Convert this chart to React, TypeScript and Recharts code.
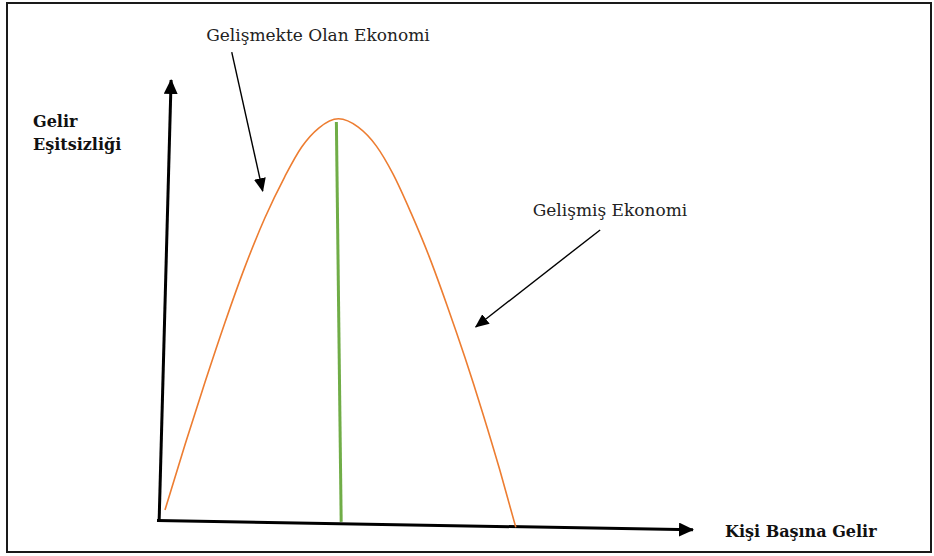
import { ComposedChart, Line, XAxis, YAxis } from "recharts";

// Kuznets curve: income per capita (x) vs. income inequality (y), arbitrary units 0..100
const income = [1.1, 4.9, 8.6, 12.3, 16.0, 19.8, 23.5, 26.7, 29.9, 33.6, 37.3, 40.7, 43.8, 47.2, 50.6, 53.9, 57.3, 60.6, 63.8, 66.8];
const inequality = [2.5, 17.5, 31.5, 44.9, 57.4, 68.7, 78.0, 84.8, 89.1, 91.2, 89.3, 85.0, 78.7, 69.8, 59.9, 49.0, 37.0, 24.5, 11.6, -1.4];

// green turning point line
const turningIncome = [33.2, 34.1];
const turningLevel = [90.5, -0.2];

// drawn axes (hand drawn, slightly tilted)
const yAxisX = [0, 2.24];
const yAxisY = [0, 100];
const xAxisX = [-0.4, 100];
const xAxisY = [0.1, -2.0];

// annotation arrows
const developingArrowX = [13.6, 19.4];
const developingArrowY = [106.3, 74.8];
const developedArrowX = [82.6, 59.3];
const developedArrowY = [66.0, 44.0];

const labelDeveloping = "Gelişmekte Olan Ekonomi";
const labelDeveloped = "Gelişmiş Ekonomi";
const yTitle = ["Gelir", "Eşitsizliği"];
const xTitle = "Kişi Başına Gelir";

const pts = (xs: number[], ys: number[]) => xs.map((x, i) => ({ x, y: ys[i] }));

const curve = pts(income, inequality);
const turning = pts(turningIncome, turningLevel);
const yAxisLine = pts(yAxisX, yAxisY);
const xAxisLine = pts(xAxisX, xAxisY);
const developingArrow = pts(developingArrowX, developingArrowY);
const developedArrow = pts(developedArrowX, developedArrowY);

const serif = "'DejaVu Serif', 'Liberation Serif', serif";

export default function App() {
  return (
    <div style={{ position: "fixed", left: 0, top: 0, width: 934, height: 556, background: "#fff" }}>
      <ComposedChart
        width={934}
        height={556}
        margin={{ top: 35.9, right: 241, bottom: 12.95, left: 157 }}
      >
        <defs>
          <marker id="axisHead" markerUnits="userSpaceOnUse" markerWidth={15} markerHeight={14}
            viewBox="0 0 15 14" refX={14} refY={7} orient="auto">
            <path d="M0,0 L15,7 L0,14 z" fill="#000" />
          </marker>
          <marker id="noteHead" markerUnits="userSpaceOnUse" markerWidth={14} markerHeight={12}
            viewBox="0 0 14 12" refX={13} refY={6} orient="auto">
            <path d="M0,0 L14,6 L0,12 z" fill="#000" />
          </marker>
        </defs>
        <XAxis type="number" dataKey="x" domain={[0, 100]} hide />
        <YAxis type="number" dataKey="y" domain={[-5, 110]} hide />

        <Line data={yAxisLine} dataKey="y" type="linear" stroke="#000" strokeWidth={3}
          dot={false} isAnimationActive={false} markerEnd="url(#axisHead)" />
        <Line data={xAxisLine} dataKey="y" type="linear" stroke="#000" strokeWidth={3}
          dot={false} isAnimationActive={false} markerEnd="url(#axisHead)" />

        <Line data={curve} dataKey="y" type="monotone" stroke="#ED7D31" strokeWidth={1.6}
          dot={false} isAnimationActive={false} />
        <Line data={turning} dataKey="y" type="linear" stroke="#70AD47" strokeWidth={3}
          dot={false} isAnimationActive={false} />

        <Line data={developingArrow} dataKey="y" type="linear" stroke="#000" strokeWidth={1.4}
          dot={false} isAnimationActive={false} markerEnd="url(#noteHead)" />
        <Line data={developedArrow} dataKey="y" type="linear" stroke="#000" strokeWidth={1.4}
          dot={false} isAnimationActive={false} markerEnd="url(#noteHead)" />

        <text x={318} y={41} textAnchor="middle" fontFamily={serif} fontSize={17} fill="#222">
          {labelDeveloping}
        </text>
        <text x={610} y={216} textAnchor="middle" fontFamily={serif} fontSize={17} fill="#222">
          {labelDeveloped}
        </text>
        <text x={33} y={127} fontFamily={serif} fontSize={16} fontWeight="bold" fill="#111">
          {yTitle[0]}
        </text>
        <text x={33} y={150} fontFamily={serif} fontSize={16} fontWeight="bold" fill="#111">
          {yTitle[1]}
        </text>
        <text x={725} y={537} fontFamily={serif} fontSize={16} fontWeight="bold" fill="#111">
          {xTitle}
        </text>

        <rect x={7} y={3} width={924} height={549} fill="none" stroke="#1a1a1a" strokeWidth={2} />
      </ComposedChart>
    </div>
  );
}
